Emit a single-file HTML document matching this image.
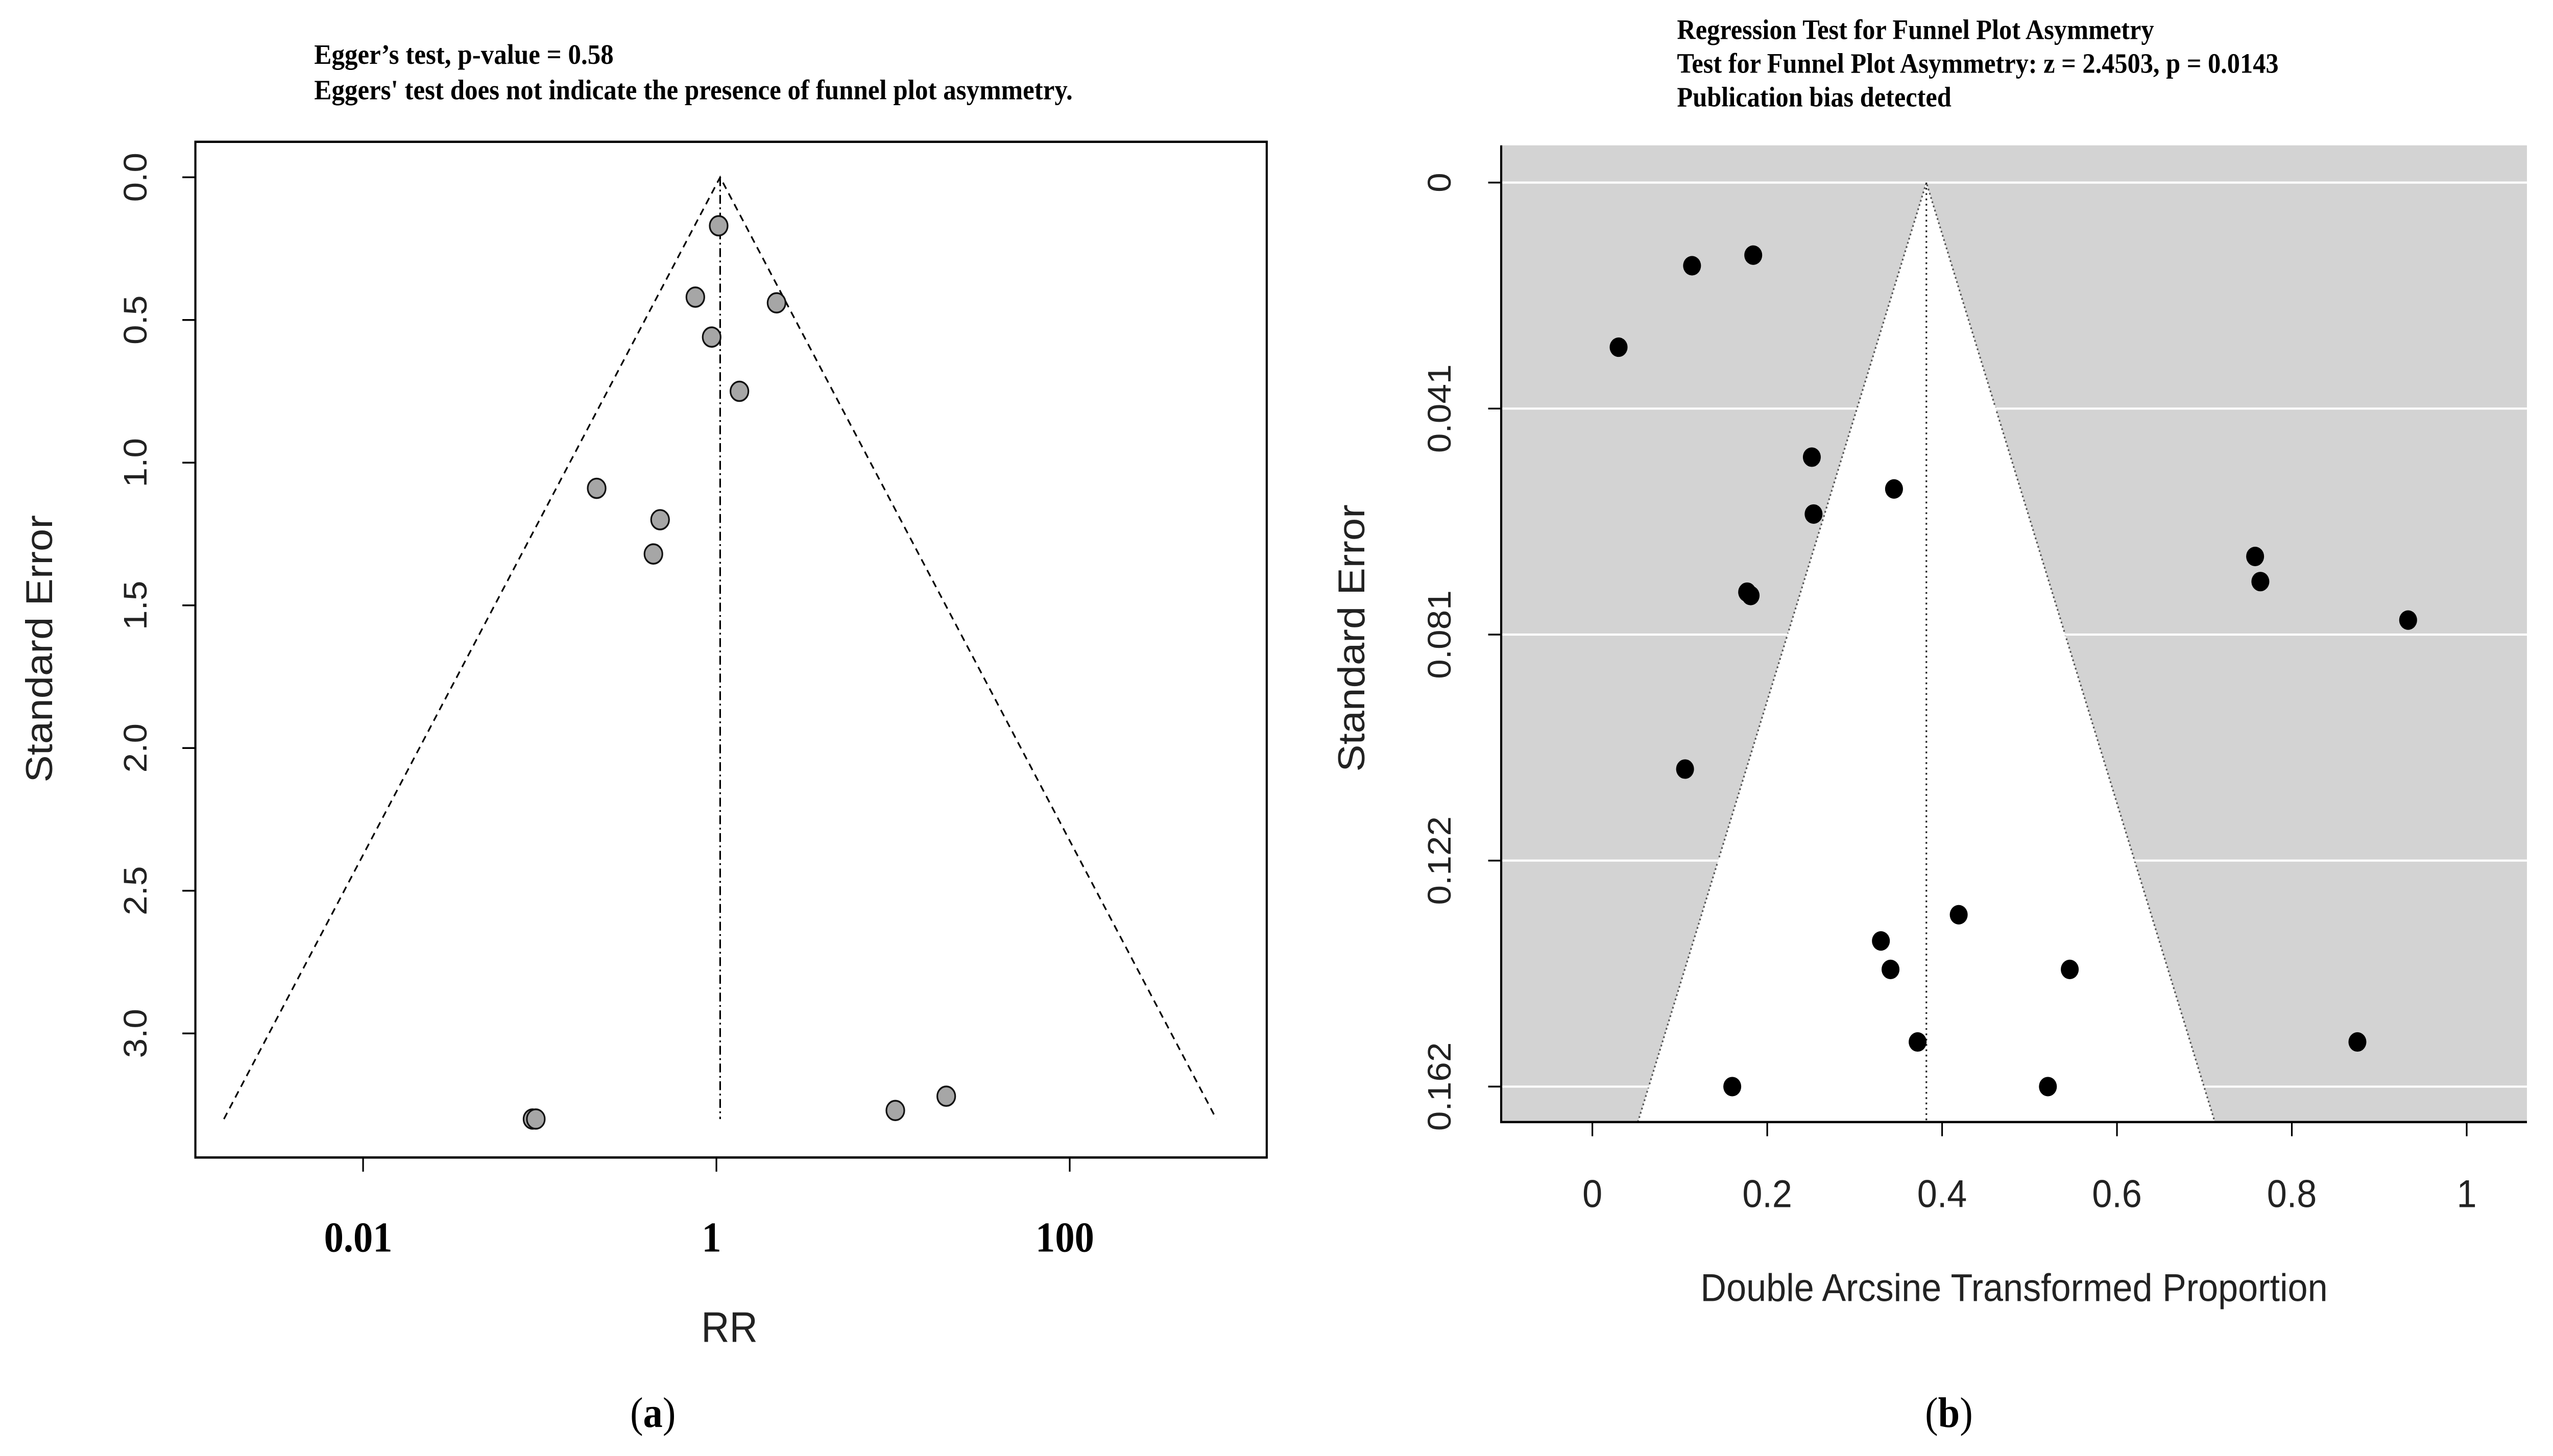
<!DOCTYPE html>
<html><head><meta charset="utf-8"><style>
html,body{margin:0;padding:0;background:#fff;overflow:hidden;width:100vw;height:100vh;}
svg{display:block;width:100vw;height:100vh;}
.serif{font-family:"Liberation Serif",serif;}
.sans{font-family:"Liberation Sans",sans-serif;}
</style></head><body>
<svg id="fig" viewBox="0 0 1568 821.4" preserveAspectRatio="none" xmlns="http://www.w3.org/2000/svg">
<rect width="1568" height="821.4" fill="#fff"/>
<g id="pa"></g>
<g id="pb"></g>
</svg>
<script>
// Panel A data
const aRR = [1.03, 0.76, 2.19, 0.94, 1.35, 0.21, 0.48, 0.44, 0.091, 0.095, 10.3, 20];
const aSE = [0.17, 0.42, 0.44, 0.56, 0.75, 1.09, 1.20, 1.32, 3.30, 3.30, 3.27, 3.22];
const aYTicks = [0.0, 0.5, 1.0, 1.5, 2.0, 2.5, 3.0];
const aXTicks = [0.01, 1, 100];
const aXTickLabels = ["0.01", "1", "100"];
const aCenter = 1.05;
// Panel B data
const bX = [0.184,0.114,0.030,0.251,0.345,0.253,0.177,0.181,0.758,0.764,0.933,0.106,0.419,0.330,0.341,0.546,0.372,0.875,0.160,0.521];
const bSE = [0.0130,0.0149,0.0295,0.0492,0.0549,0.0594,0.0734,0.0740,0.0670,0.0715,0.0784,0.1051,0.1312,0.1359,0.1410,0.1410,0.1540,0.1540,0.1620,0.1620];
const bYTicks = [0, 0.0405, 0.081, 0.1215, 0.162];
const bYTickLabels = ["0", "0.041", "0.081", "0.122", "0.162"];
const bXTicks = [0, 0.2, 0.4, 0.6, 0.8, 1];
const bXTickLabels = ["0", "0.2", "0.4", "0.6", "0.8", "1"];
const bCenter = 0.382;

const NS = "http://www.w3.org/2000/svg";
function mk(parent, tag, attrs, text){
  const e = document.createElementNS(NS, tag);
  for (const k in attrs) e.setAttribute(k, attrs[k]);
  if (text !== undefined) e.textContent = text;
  parent.appendChild(e);
  return e;
}
// ---------- Panel A ----------
const pa = document.getElementById('pa');
const ax = v => 440 + Math.log10(v) * 108.5;
const ay = v => 100 + v * 161;
let e;
e = mk(pa,'text',{x:193,y:36,'font-size':16,'font-weight':'bold',class:'serif'},"Egger’s test, p-value = 0.58");


e = mk(pa,'text',{x:193,y:56,'font-size':16,'font-weight':'bold',class:'serif'},"Eggers' test does not indicate the presence of funnel plot asymmetry.");


e = mk(pa,'rect',{x:120,y:80,width:658,height:573,fill:'none',stroke:'#000','stroke-width':1.3});


const seMax = 3.3, cx = Math.log10(aCenter), half = 1.96*seMax/Math.LN10;
e = mk(pa,'polyline',{points:`${440+(cx-half)*108.5},${ay(seMax)} ${ax(aCenter)},${ay(0)} ${440+(cx+half)*108.5},${ay(seMax)}`,fill:'none',stroke:'#000','stroke-width':1,'stroke-dasharray':'4,3'});


e = mk(pa,'line',{x1:ax(aCenter),y1:ay(0),x2:ax(aCenter),y2:ay(seMax),stroke:'#000','stroke-width':1,'stroke-dasharray':'5,2,1,2'});


aYTicks.forEach(t=>{
  const y = ay(t);
  e = mk(pa,'line',{x1:112,y1:y,x2:120,y2:y,stroke:'#000','stroke-width':1});
  
  
  e = mk(pa,'text',{x:0,y:0,transform:`translate(90,${y}) rotate(-90)`,'text-anchor':'middle','font-size':20,class:'sans',fill:'#222'},t.toFixed(1));
  
  
});
aXTicks.forEach((t,i)=>{
  const x = ax(t);
  e = mk(pa,'line',{x1:x,y1:653,x2:x,y2:661,stroke:'#000','stroke-width':1});
  
  
  e = mk(pa,'text',{x:x-3,y:706,'text-anchor':'middle','font-size':24,'font-weight':'bold',class:'serif'},aXTickLabels[i]);
  
  
});
e = mk(pa,'text',{x:448,y:757,'text-anchor':'middle','font-size':24,class:'sans',fill:'#222'},"RR");


e = mk(pa,'text',{x:0,y:0,transform:'translate(32,366) rotate(-90)','text-anchor':'middle','font-size':23,class:'sans',fill:'#222'},"Standard Error");


aRR.forEach((v,i)=>{
  e = mk(pa,'circle',{cx:ax(v),cy:ay(aSE[i]),r:5.5,fill:'#a6a6a6',stroke:'#111','stroke-width':1});
  
  
});
e = mk(pa,'text',{x:401,y:805,'text-anchor':'middle','font-size':24,class:'serif'});
e.innerHTML = '(<tspan font-weight="bold">a</tspan>)';



// ---------- Panel B ----------
const pb = document.getElementById('pb');
const bx = v => 978 + v*537;
const by = v => 103 + v*(510/0.162);
['Regression Test for Funnel Plot Asymmetry','Test for Funnel Plot Asymmetry: z = 2.4503, p = 0.0143','Publication bias detected'].forEach((s,i)=>{
  e = mk(pb,'text',{x:1030,y:22+i*19,'font-size':15.8,'font-weight':'bold',class:'serif'},s);
  
  
});
e = mk(pb,'rect',{x:922,y:82,width:630,height:551,fill:'#d3d3d3'});


const seB = (633-103)/(510/0.162);
e = mk(pb,'polygon',{points:`${bx(bCenter-1.96*seB)},633 ${bx(bCenter)},${by(0)} ${bx(bCenter+1.96*seB)},633`,fill:'#fff',stroke:'#555','stroke-width':1,'stroke-dasharray':'1,1.5'});


bYTicks.forEach((t,i)=>{
  const y = by(t);
  e = mk(pb,'line',{x1:922,y1:y,x2:1552,y2:y,stroke:'#fff','stroke-width':1.2});
  
  
  e = mk(pb,'line',{x1:914,y1:y,x2:922,y2:y,stroke:'#000','stroke-width':1});
  
  
  e = mk(pb,'text',{x:0,y:0,transform:`translate(891,${y}) rotate(-90)`,'text-anchor':'middle','font-size':20,class:'sans',fill:'#222'},bYTickLabels[i]);
  
  
});
e = mk(pb,'line',{x1:bx(bCenter),y1:by(0),x2:bx(bCenter),y2:633,stroke:'#222','stroke-width':1,'stroke-dasharray':'1,2'});


e = mk(pb,'polyline',{points:'922,82 922,633 1552,633',fill:'none',stroke:'#000','stroke-width':1.3});


bXTicks.forEach((t,i)=>{
  const x = bx(t);
  e = mk(pb,'line',{x1:x,y1:633,x2:x,y2:641,stroke:'#000','stroke-width':1});
  
  
  e = mk(pb,'text',{x:x,y:681,'text-anchor':'middle','font-size':22,class:'sans',fill:'#222'},bXTickLabels[i]);
  
  
});
e = mk(pb,'text',{x:1237,y:734,'text-anchor':'middle','font-size':22,class:'sans',fill:'#222'},"Double Arcsine Transformed Proportion");


e = mk(pb,'text',{x:0,y:0,transform:'translate(838,360) rotate(-90)','text-anchor':'middle','font-size':23,class:'sans',fill:'#222'},"Standard Error");


bX.forEach((v,i)=>{
  e = mk(pb,'circle',{cx:bx(v),cy:by(bSE[i]),r:5.5,fill:'#000'});
  
  
});
e = mk(pb,'text',{x:1197,y:805,'text-anchor':'middle','font-size':24,class:'serif'});
e.innerHTML = '(<tspan font-weight="bold">b</tspan>)';


</script>
</body></html>
